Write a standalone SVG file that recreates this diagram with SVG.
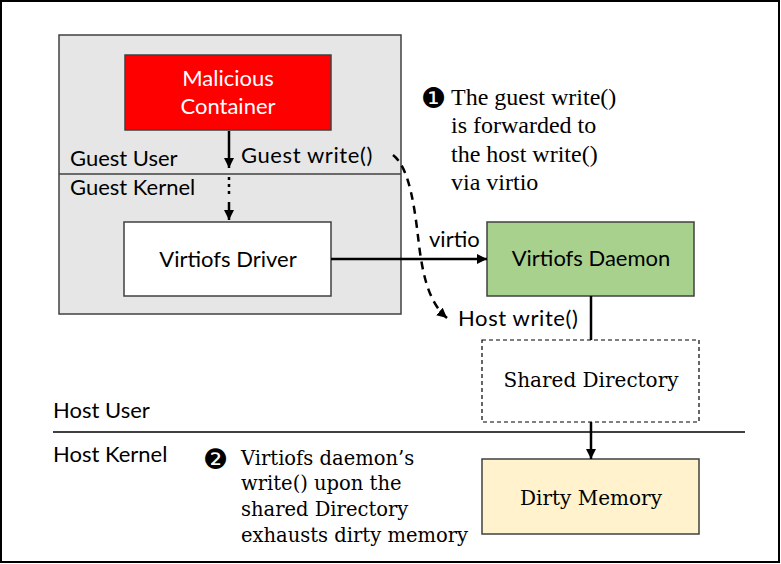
<svg xmlns="http://www.w3.org/2000/svg" width="781" height="564" viewBox="0 0 781 564">
  <style>
    .sans { font-family: Lato, "Open Sans", "Liberation Sans", sans-serif; font-size: 22px; fill: #000; }
    .serif { font-family: "Liberation Serif", "Times New Roman", serif; font-size: 24px; fill: #000; }
    .cserif { font-family: "DejaVu Serif", "Liberation Serif", serif; font-size: 19.5px; fill: #000; }
    .num { font-family: "DejaVu Sans", sans-serif; font-size: 28px; fill: #000; }
    .box { stroke: #404040; stroke-width: 1.5; }
    .conn { stroke: #000; stroke-width: 2.5; fill: none; }
    .mid { text-anchor: middle; }
  </style>
  <defs>
    <marker id="ah" viewBox="0 0 10 10" refX="10" refY="5" markerWidth="4" markerHeight="4" markerUnits="strokeWidth" orient="auto">
      <path d="M0,0 L10,5 L0,10 z" fill="#000"/>
    </marker>
  </defs>

  <rect x="1" y="1" width="778" height="561" fill="#fff" stroke="#000" stroke-width="2"/>

  <g id="guest-vm">
    <rect x="59" y="35" width="342" height="279" fill="#e6e6e6" class="box"/>
    <line x1="59" y1="174" x2="401" y2="174" stroke="#404040" stroke-width="1.5"/>
    <text class="sans" x="70" y="166">Guest User</text>
    <text class="sans" x="70" y="195">Guest Kernel</text>
  </g>

  <g id="malicious-container">
    <rect x="125" y="55" width="206" height="75" fill="#ff0000" class="box"/>
    <text class="sans mid" x="228" y="86" style="fill:#fff">Malicious</text>
    <text class="sans mid" x="228" y="114" style="fill:#fff">Container</text>
  </g>

  <g id="virtiofs-driver">
    <rect x="124" y="222" width="207" height="74" fill="#fff" class="box"/>
    <text class="sans mid" x="228" y="267">Virtiofs Driver</text>
  </g>

  <g id="virtiofs-daemon">
    <rect x="487" y="222" width="207" height="74" fill="#a9d18e" class="box"/>
    <text class="sans mid" x="591" y="266">Virtiofs Daemon</text>
  </g>

  <g id="shared-directory">
    <rect x="482" y="340" width="217" height="82" fill="#fff" stroke="#000" stroke-width="1.2" stroke-dasharray="4,3"/>
    <text class="cserif mid" x="591" y="387" style="font-size:20px">Shared Directory</text>
  </g>

  <g id="dirty-memory">
    <rect x="482" y="459" width="217" height="75" fill="#fff2cc" class="box"/>
    <text class="cserif mid" x="591" y="505" style="font-size:20px">Dirty Memory</text>
  </g>

  <g id="host-layers">
    <line x1="53" y1="432" x2="745" y2="432" stroke="#404040" stroke-width="2"/>
    <text class="sans" x="53" y="418">Host User</text>
    <text class="sans" x="53" y="462">Host Kernel</text>
  </g>

  <g id="connectors">
    <line class="conn" x1="229" y1="131" x2="229" y2="168" marker-end="url(#ah)"/>
    <line class="conn" x1="229" y1="177" x2="229" y2="196" stroke-dasharray="3,4"/>
    <line class="conn" x1="229" y1="202" x2="229" y2="220" marker-end="url(#ah)"/>
    <line class="conn" x1="331" y1="259" x2="487" y2="259" marker-end="url(#ah)"/>
    <path class="conn" d="M393,155 C410,168 415,210 419,245 C424,285 432,305 447,318" stroke-dasharray="8,6" marker-end="url(#ah)"/>
    <line class="conn" x1="591" y1="296" x2="591" y2="340"/>
    <line class="conn" x1="591" y1="422" x2="591" y2="459" marker-end="url(#ah)"/>
    <text class="sans" x="241" y="163" letter-spacing="0.6">Guest write()</text>
    <text class="sans" x="429" y="247">virtio</text>
    <text class="sans" x="458" y="326" letter-spacing="0.6">Host write()</text>
  </g>

  <g id="note-1">
    <text class="num" x="421" y="108">❶</text>
    <text class="serif" x="451" y="105">The guest write()</text>
    <text class="serif" x="451" y="133">is forwarded to</text>
    <text class="serif" x="451" y="162">the host write()</text>
    <text class="serif" x="451" y="190">via virtio</text>
  </g>

  <g id="note-2">
    <text class="num" x="203" y="469">❷</text>
    <text class="cserif" x="241" y="465">Virtiofs daemon’s</text>
    <text class="cserif" x="241" y="490">write() upon the</text>
    <text class="cserif" x="241" y="516">shared Directory</text>
    <text class="cserif" x="241" y="542">exhausts dirty memory</text>
  </g>
</svg>
